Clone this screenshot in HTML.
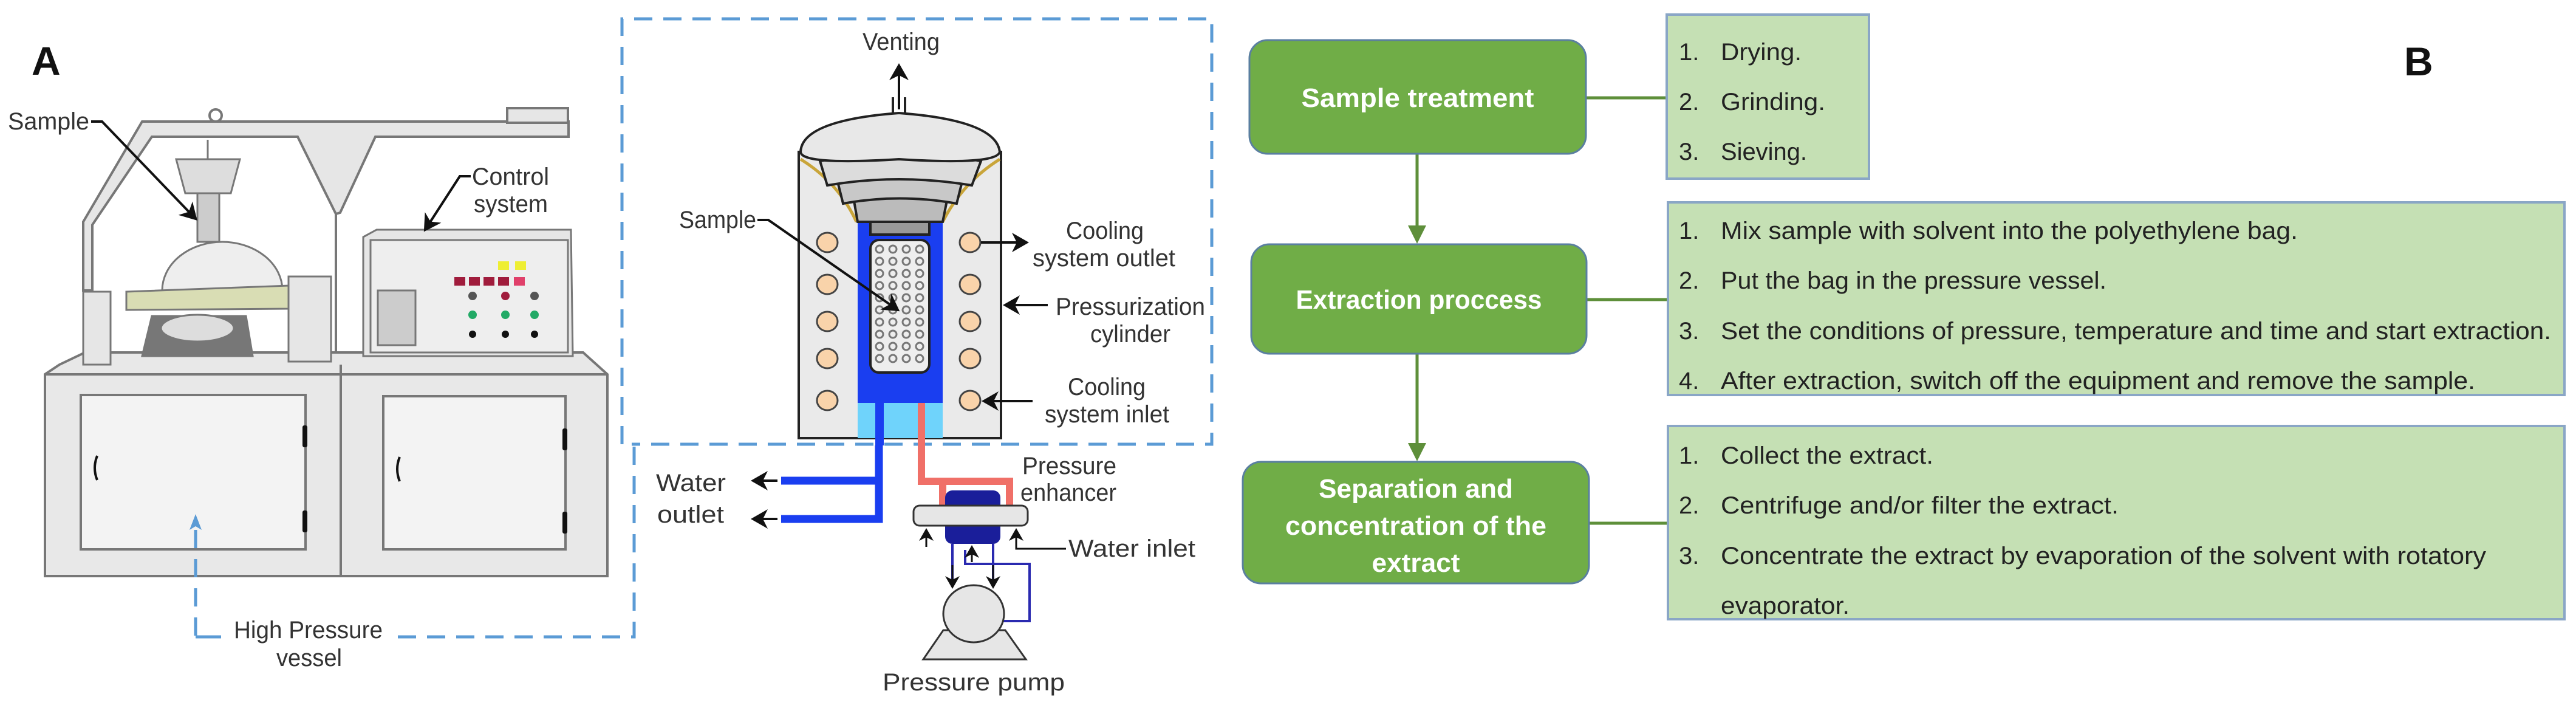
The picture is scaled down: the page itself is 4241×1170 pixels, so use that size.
<!DOCTYPE html>
<html><head><meta charset="utf-8"><style>
html,body{margin:0;padding:0;background:#fff;}
svg{display:block;}
.a{font-family:"Liberation Sans",sans-serif;fill:#333;font-size:40px;}
.b{font-family:"Liberation Sans Narrow","Liberation Sans",sans-serif;}
</style></head><body>
<svg width="4241" height="1170" viewBox="0 0 4241 1170" xmlns="http://www.w3.org/2000/svg">
<defs>
<marker id="ah" markerWidth="8" markerHeight="8" refX="6" refY="4" orient="auto" markerUnits="strokeWidth"><path d="M0,0 L7,4 L0,8 L2,4z" fill="#111"/></marker>
<marker id="ga" markerWidth="6" markerHeight="6" refX="5" refY="3" orient="auto" markerUnits="strokeWidth"><path d="M0,0 L6,3 L0,6z" fill="#5e8f3a"/></marker>
</defs>

<!-- ============ PART A ============ -->
<text x="52" y="123" font-family="Liberation Sans" font-weight="bold" font-size="66" fill="#111">A</text>

<g stroke="#777" stroke-width="4" fill="#e6e6e6">
<path d="M234,200 L936,200 L936,225 L618,225 L560,350 L553,352 L490,225 L250,225 L152,370 L152,478 L137,478 L137,365 Z"/>
<rect x="835" y="178" width="100" height="24"/>
<circle cx="355" cy="190" r="10" fill="none"/>
<line x1="553" y1="352" x2="553" y2="598"/>
</g>
<g stroke="#777" stroke-width="4">
<path d="M98,600 L140,580 L960,580 L1000,616 L1000,948 L74,948 L74,616 Z" fill="#e8e8e8"/>
<line x1="74" y1="616" x2="1000" y2="616"/>
<line x1="561" y1="600" x2="561" y2="948"/>
<rect x="133" y="650" width="370" height="254" fill="#f3f3f3"/>
<rect x="631" y="652" width="300" height="252" fill="#f3f3f3"/>
</g>
<g fill="#111"><rect x="498" y="700" width="8" height="36" rx="3"/><rect x="498" y="840" width="8" height="36" rx="3"/>
<rect x="926" y="705" width="8" height="36" rx="3"/><rect x="926" y="842" width="8" height="36" rx="3"/></g>
<path d="M160,750 q-8,20 0,40" stroke="#111" stroke-width="4" fill="none"/>
<path d="M658,752 q-8,20 0,40" stroke="#111" stroke-width="4" fill="none"/>

<g stroke="#777" stroke-width="3">
<rect x="137" y="480" width="45" height="120" fill="#e6e6e6"/>
<rect x="475" y="455" width="70" height="140" fill="#e6e6e6"/>
<path d="M267,478 A99,80 0 0 1 465,478 Z" fill="#eee"/>
<path d="M208,480 L475,470 L475,508 L208,510 Z" fill="#d9ddb4"/>
<polygon points="234,586 416,586 405,520 250,520" fill="#777"/>
<ellipse cx="325" cy="540" rx="60" ry="22" fill="#ddd"/>
<path d="M290,262 L395,262 L380,318 L305,318 Z" fill="#ddd"/>
<rect x="325" y="318" width="36" height="80" fill="#ccc"/>
<line x1="342" y1="230" x2="342" y2="262"/>
</g>
<g stroke="#777" stroke-width="3">
<path d="M598,390 L620,378 L940,378 L943,586 L598,586 Z" fill="#e6e6e6"/>
<rect x="610" y="395" width="325" height="185" fill="#eee"/>
<rect x="622" y="478" width="62" height="90" fill="#ccc"/>
</g>
<g fill="#a01c3c"><rect x="748" y="456" width="18" height="14"/><rect x="772" y="456" width="18" height="14"/><rect x="796" y="456" width="18" height="14"/><rect x="820" y="456" width="18" height="14"/><rect x="846" y="456" width="18" height="14" fill="#e0406a"/></g>
<g fill="#ee3"><rect x="820" y="430" width="18" height="14"/><rect x="848" y="430" width="18" height="14"/></g>
<g fill="#555"><circle cx="778" cy="487" r="7"/><circle cx="832" cy="487" r="7" fill="#a01c3c"/><circle cx="880" cy="487" r="7"/>
<circle cx="778" cy="518" r="7" fill="#2a6"/><circle cx="832" cy="518" r="7" fill="#2a6"/><circle cx="880" cy="518" r="7" fill="#2a6"/>
<circle cx="778" cy="550" r="6" fill="#111"/><circle cx="832" cy="550" r="6" fill="#111"/><circle cx="880" cy="550" r="6" fill="#111"/></g>

<text class="a" x="13" y="213" textLength="134" lengthAdjust="spacingAndGlyphs">Sample</text>
<polyline points="150,200 168,200 322,360" stroke="#111" stroke-width="4" fill="none" marker-end="url(#ah)"/>
<text class="a" x="777" y="304" textLength="127" lengthAdjust="spacingAndGlyphs">Control</text>
<text class="a" x="780" y="349" textLength="122" lengthAdjust="spacingAndGlyphs">system</text>
<polyline points="775,290 757,290 700,378" stroke="#111" stroke-width="4" fill="none" marker-end="url(#ah)"/>

<g stroke="#5b9bd5" stroke-width="5" fill="none" stroke-dasharray="30,18">
<path d="M1024,731 L1024,31 L1995,31 L1995,731 L1040,731"/>
<path d="M1044,735 L1044,1048 L651,1048"/>
<path d="M322,1046 L322,862"/>
</g>
<path d="M322,1048 L364,1048" stroke="#5b9bd5" stroke-width="5"/>
<path d="M312,872 L322,846 L332,872 L322,866z" fill="#5b9bd5"/>
<text class="a" x="385" y="1050" textLength="245" lengthAdjust="spacingAndGlyphs">High Pressure</text>
<text class="a" x="455" y="1096" textLength="108" lengthAdjust="spacingAndGlyphs">vessel</text>

<text class="a" x="1420" y="82" textLength="127" lengthAdjust="spacingAndGlyphs">Venting</text>
<line x1="1480" y1="180" x2="1480" y2="108" stroke="#111" stroke-width="4" marker-end="url(#ah)"/>
<g stroke="#222" stroke-width="4">
<rect x="1315" y="250" width="333" height="471" fill="#eaeaea"/>
<rect x="1412" y="360" width="140" height="361" fill="#1a3ef0" stroke="none"/>
<rect x="1412" y="663" width="140" height="58" fill="#6fd3fb" stroke="none"/>
<rect x="1441" y="663" width="14" height="70" fill="#1a3ef0" stroke="none"/>
<rect x="1511" y="663" width="12" height="70" fill="#f07068" stroke="none"/>
<rect x="1433" y="362" width="97" height="24" fill="#999"/>
<rect x="1433" y="395" width="97" height="218" rx="14" fill="#eee"/>
</g>
<path d="M1318,262 Q1380,300 1410,365 M1646,262 Q1585,300 1552,365" stroke="#c9a53a" stroke-width="5" fill="none"/>
<g stroke="#222" stroke-width="4">
<path d="M1405,325 Q1480,305 1560,325 L1552,365 L1412,365 Z" fill="#bbb"/>
<path d="M1378,295 Q1480,272 1585,295 L1575,335 Q1480,318 1388,335 Z" fill="#c8c8c8"/>
<path d="M1350,265 Q1480,240 1615,265 L1600,305 Q1480,285 1362,305 Z" fill="#dcdcdc"/>
<path d="M1318,250 Q1320,198 1480,186 Q1640,198 1646,250 Q1640,272 1480,262 Q1320,272 1318,250 Z" fill="#e8e8e8"/>
<path d="M1470,186 V160 M1490,186 V160" stroke-width="4"/>
</g>
<g fill="none" stroke="#777" stroke-width="3">
<circle cx="1448" cy="410" r="6"/><circle cx="1470" cy="410" r="6"/><circle cx="1492" cy="410" r="6"/><circle cx="1514" cy="410" r="6"/>
<circle cx="1448" cy="430" r="6"/><circle cx="1470" cy="430" r="6"/><circle cx="1492" cy="430" r="6"/><circle cx="1514" cy="430" r="6"/>
<circle cx="1448" cy="450" r="6"/><circle cx="1470" cy="450" r="6"/><circle cx="1492" cy="450" r="6"/><circle cx="1514" cy="450" r="6"/>
<circle cx="1448" cy="470" r="6"/><circle cx="1470" cy="470" r="6"/><circle cx="1492" cy="470" r="6"/><circle cx="1514" cy="470" r="6"/>
<circle cx="1448" cy="490" r="6"/><circle cx="1470" cy="490" r="6"/><circle cx="1492" cy="490" r="6"/><circle cx="1514" cy="490" r="6"/>
<circle cx="1448" cy="510" r="6"/><circle cx="1470" cy="510" r="6"/><circle cx="1492" cy="510" r="6"/><circle cx="1514" cy="510" r="6"/>
<circle cx="1448" cy="530" r="6"/><circle cx="1470" cy="530" r="6"/><circle cx="1492" cy="530" r="6"/><circle cx="1514" cy="530" r="6"/>
<circle cx="1448" cy="550" r="6"/><circle cx="1470" cy="550" r="6"/><circle cx="1492" cy="550" r="6"/><circle cx="1514" cy="550" r="6"/>
<circle cx="1448" cy="570" r="6"/><circle cx="1470" cy="570" r="6"/><circle cx="1492" cy="570" r="6"/><circle cx="1514" cy="570" r="6"/>
<circle cx="1448" cy="590" r="6"/><circle cx="1470" cy="590" r="6"/><circle cx="1492" cy="590" r="6"/><circle cx="1514" cy="590" r="6"/>
</g>
<g fill="#f9d3aa" stroke="#444" stroke-width="3">
<ellipse cx="1362" cy="399" rx="17" ry="16"/><ellipse cx="1362" cy="468" rx="17" ry="16"/><ellipse cx="1362" cy="529" rx="17" ry="16"/><ellipse cx="1362" cy="590" rx="17" ry="16"/><ellipse cx="1362" cy="659" rx="17" ry="16"/>
<ellipse cx="1597" cy="399" rx="17" ry="16"/><ellipse cx="1597" cy="468" rx="17" ry="16"/><ellipse cx="1597" cy="529" rx="17" ry="16"/><ellipse cx="1597" cy="590" rx="17" ry="16"/><ellipse cx="1597" cy="659" rx="17" ry="16"/>
</g>
<text class="a" x="1118" y="375" textLength="127" lengthAdjust="spacingAndGlyphs">Sample</text>
<polyline points="1247,362 1265,362 1478,510" stroke="#111" stroke-width="4" fill="none" marker-end="url(#ah)"/>
<line x1="1615" y1="399" x2="1690" y2="399" stroke="#111" stroke-width="4" marker-end="url(#ah)"/>
<text class="a" x="1755" y="393" textLength="128" lengthAdjust="spacingAndGlyphs">Cooling</text>
<text class="a" x="1700" y="438" textLength="235" lengthAdjust="spacingAndGlyphs">system outlet</text>
<line x1="1725" y1="502" x2="1655" y2="502" stroke="#111" stroke-width="4" marker-end="url(#ah)"/>
<text class="a" x="1738" y="518" textLength="246" lengthAdjust="spacingAndGlyphs">Pressurization</text>
<text class="a" x="1795" y="563" textLength="132" lengthAdjust="spacingAndGlyphs">cylinder</text>
<line x1="1700" y1="660" x2="1620" y2="660" stroke="#111" stroke-width="4" marker-end="url(#ah)"/>
<text class="a" x="1758" y="650" textLength="128" lengthAdjust="spacingAndGlyphs">Cooling</text>
<text class="a" x="1720" y="695" textLength="205" lengthAdjust="spacingAndGlyphs">system inlet</text>

<g fill="none" stroke-linejoin="miter">
<path d="M1447,733 L1447,854 L1286,854 M1447,791 L1286,791" stroke="#1a3ef0" stroke-width="13"/>
<path d="M1517,733 L1517,792 L1662,792 L1662,834 M1552,792 L1552,834" stroke="#f07068" stroke-width="12"/>
</g>
<g stroke="#111" stroke-width="4" fill="none">
<line x1="1280" y1="791" x2="1240" y2="791" marker-end="url(#ah)"/>
<line x1="1280" y1="854" x2="1240" y2="854" marker-end="url(#ah)"/>
</g>
<rect x="1556" y="807" width="91" height="88" rx="12" fill="#1a1e9a"/>
<rect x="1504" y="832" width="188" height="33" rx="10" fill="#e6e6e6" stroke="#333" stroke-width="3"/>
<g stroke="#2a2ab0" stroke-width="4" fill="none">
<path d="M1568,895 L1568,962 M1635,895 L1635,962"/>
<path d="M1650,1022 L1695,1022 L1695,928 L1589,928 L1589,905"/>
</g>
<g stroke="#111" stroke-width="3" fill="none">
<line x1="1568" y1="930" x2="1568" y2="966" marker-end="url(#ah)"/>
<line x1="1635" y1="930" x2="1635" y2="966" marker-end="url(#ah)"/>
<line x1="1525" y1="900" x2="1525" y2="872" marker-end="url(#ah)"/>
<polyline points="1755,903 1673,903 1673,872" marker-end="url(#ah)"/>
<line x1="1600" y1="925" x2="1600" y2="900" marker-end="url(#ah)"/>
</g>
<polygon points="1520,1085 1689,1085 1655,1037 1553,1037" fill="#e6e6e6" stroke="#333" stroke-width="3"/>
<ellipse cx="1603" cy="1010" rx="50" ry="47" fill="#e6e6e6" stroke="#333" stroke-width="3"/>
<text class="a" x="1080" y="808" textLength="115" lengthAdjust="spacingAndGlyphs">Water</text>
<text class="a" x="1082" y="860" textLength="110" lengthAdjust="spacingAndGlyphs">outlet</text>
<text class="a" x="1683" y="780" textLength="155" lengthAdjust="spacingAndGlyphs">Pressure</text>
<text class="a" x="1680" y="824" textLength="158" lengthAdjust="spacingAndGlyphs">enhancer</text>
<text class="a" x="1759" y="916" textLength="209" lengthAdjust="spacingAndGlyphs">Water inlet</text>
<text class="a" x="1453" y="1136" textLength="300" lengthAdjust="spacingAndGlyphs">Pressure pump</text>

<!-- ============ PART B ============ -->
<text x="3958" y="124" font-family="Liberation Sans" font-weight="bold" font-size="66" fill="#111">B</text>
<g stroke="#5e8f3a" stroke-width="5">
<line x1="2333" y1="253" x2="2333" y2="396" marker-end="url(#ga)"/>
<line x1="2333" y1="582" x2="2333" y2="754" marker-end="url(#ga)"/>
<line x1="2611" y1="161" x2="2744" y2="161"/>
<line x1="2612" y1="493" x2="2746" y2="493"/>
<line x1="2616" y1="861" x2="2746" y2="861"/>
</g>
<g fill="#70ad47" stroke="#5a7fa0" stroke-width="3">
<rect x="2057" y="66" width="554" height="187" rx="30"/>
<rect x="2060" y="402" width="552" height="180" rx="30"/>
<rect x="2046" y="760" width="570" height="200" rx="30"/>
</g>
<g fill="#c5e0b4" stroke="#8aa6c6" stroke-width="4">
<rect x="2744" y="24" width="333" height="270"/>
<rect x="2746" y="333" width="1476" height="317"/>
<rect x="2746" y="701" width="1476" height="318"/>
</g>
<g class="b" fill="#fff" font-size="44" font-weight="bold" text-anchor="middle">
<text x="2334" y="176" textLength="383" lengthAdjust="spacingAndGlyphs">Sample treatment</text>
<text x="2336" y="508" textLength="405" lengthAdjust="spacingAndGlyphs">Extraction proccess</text>
<text x="2331" y="819" textLength="320" lengthAdjust="spacingAndGlyphs">Separation and</text>
<text x="2331" y="880" textLength="430" lengthAdjust="spacingAndGlyphs">concentration of the</text>
<text x="2331" y="941" textLength="145" lengthAdjust="spacingAndGlyphs">extract</text>
</g>
<g class="b" fill="#222" font-size="40">
<text x="2764" y="99">1.</text><text x="2833" y="99" textLength="133" lengthAdjust="spacingAndGlyphs">Drying.</text>
<text x="2764" y="181">2.</text><text x="2833" y="181" textLength="172" lengthAdjust="spacingAndGlyphs">Grinding.</text>
<text x="2764" y="263">3.</text><text x="2833" y="263" textLength="142" lengthAdjust="spacingAndGlyphs">Sieving.</text>

<text x="2764" y="393">1.</text><text x="2833" y="393" textLength="950" lengthAdjust="spacingAndGlyphs">Mix sample with solvent into the polyethylene bag.</text>
<text x="2764" y="475">2.</text><text x="2833" y="475" textLength="635" lengthAdjust="spacingAndGlyphs">Put the bag in the pressure vessel.</text>
<text x="2764" y="558">3.</text><text x="2833" y="558" textLength="1367" lengthAdjust="spacingAndGlyphs">Set the conditions of pressure, temperature and time and start extraction.</text>
<text x="2764" y="640">4.</text><text x="2833" y="640" textLength="1242" lengthAdjust="spacingAndGlyphs">After extraction, switch off the equipment and remove the sample.</text>

<text x="2764" y="763">1.</text><text x="2833" y="763" textLength="350" lengthAdjust="spacingAndGlyphs">Collect the extract.</text>
<text x="2764" y="845">2.</text><text x="2833" y="845" textLength="655" lengthAdjust="spacingAndGlyphs">Centrifuge and/or filter the extract.</text>
<text x="2764" y="928">3.</text><text x="2833" y="928" textLength="1260" lengthAdjust="spacingAndGlyphs">Concentrate the extract by evaporation of the solvent with rotatory</text>
<text x="2833" y="1010" textLength="212" lengthAdjust="spacingAndGlyphs">evaporator.</text>
</g>
</svg>
</body></html>
